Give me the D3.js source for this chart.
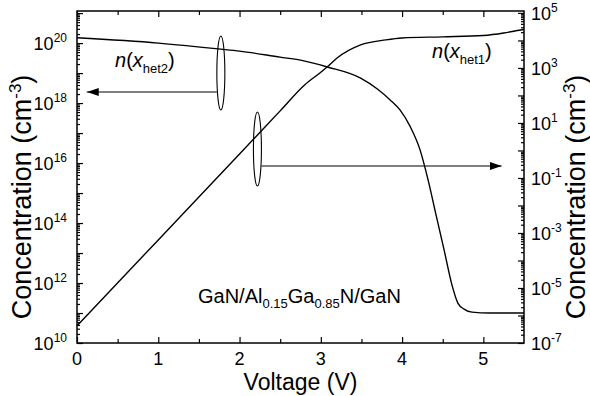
<!DOCTYPE html>
<html><head><meta charset="utf-8">
<script src="https://cdn.jsdelivr.net/npm/d3@7"></script>
<style>body{margin:0;background:#fff}svg text{font-family:"Liberation Sans",Arial,sans-serif}</style>
</head><body><svg id="c" width="590" height="396"></svg>
<script>
// ---- data ----
const voltHet2 = [0, 1, 1.77, 2, 2.5, 2.75, 3.08, 3.49, 3.7, 3.85, 3.974, 4.097, 4.22, 4.319, 4.417, 4.516, 4.614, 4.688, 4.762, 4.86, 5.08, 5.5];
const nHet2 = [1.5e20, 1.0e20, 6.3e19, 5.4e19, 3.4e19, 2.7e19, 1.6e19, 6.8e18, 2.9e18, 1.3e18, 5.9e17, 1.7e17, 2.8e16, 2.8e15, 1.9e14, 1.3e13, 8.5e11, 2.1e11, 1.35e11, 1.07e11, 1.0e11, 1.0e11];
const voltHet1 = [0, 1, 2, 2.5, 2.8, 3.0, 3.08, 3.2, 3.49, 3.8, 4.0, 4.5, 5.0, 5.25, 5.4, 5.5];
const nHet1 = [4.2e-7, 5.6e-4, 0.74, 27.5, 240, 700, 1100, 2300, 6900, 10500, 12300, 13500, 15100, 18600, 22400, 25100];
const xTicks = [0, 1, 2, 3, 4, 5];
const leftLabelExp = [10, 12, 14, 16, 18, 20];
const rightLabelExp = [-7, -5, -3, -1, 1, 3, 5];
const xLabel = "Voltage (V)";
const yLabel = "Concentration (cm";
const structure = ["GaN/Al", "0.15", "Ga", "0.85", "N/GaN"];

// ---- layout ----
const svg = d3.select("#c");
const L = 77, R = 524, T = 11, B = 343;
const x = d3.scaleLinear().domain([0, 5.5]).range([L, R]);
const yL = d3.scaleLog().domain([1e10, Math.pow(10, 21.07)]).range([B, T]);
const yR = d3.scaleLog().domain([1e-7, Math.pow(10, 5.07)]).range([B, T]);

function logTicks(lo, hi) {
  const maj = [], min = [];
  for (let e = Math.floor(lo); e <= Math.ceil(hi); e++) {
    for (let m = 1; m <= 9; m++) {
      const v = m * Math.pow(10, e);
      const lv = Math.log10(v);
      if (lv < lo - 1e-9 || lv > hi + 1e-9) continue;
      (m === 1 ? maj : min).push(v);
    }
  }
  return [maj, min];
}
const [lMaj, lMin] = logTicks(10, 21.07);
const [rMaj, rMin] = logTicks(-7, 5.07);
const xMin = d3.range(0.5, 5.5, 1);

function axisDraw(g, axis) { g.call(axis); g.select(".domain").remove(); g.selectAll("line").attr("stroke", "#000").attr("stroke-width", 1.2); }

// ticks
svg.append("g").attr("transform", `translate(${L},0)`).call(g => axisDraw(g, d3.axisLeft(yL).tickValues(lMaj).tickSize(-6).tickFormat("")));
svg.append("g").attr("transform", `translate(${L},0)`).call(g => axisDraw(g, d3.axisLeft(yL).tickValues(lMin).tickSize(-3).tickFormat("")));
svg.append("g").attr("transform", `translate(${R},0)`).call(g => axisDraw(g, d3.axisRight(yR).tickValues(rMaj).tickSize(-6).tickFormat("")));
svg.append("g").attr("transform", `translate(${R},0)`).call(g => axisDraw(g, d3.axisRight(yR).tickValues(rMin).tickSize(-3).tickFormat("")));
svg.append("g").attr("transform", `translate(0,${B})`).call(g => axisDraw(g, d3.axisBottom(x).tickValues(xTicks).tickSize(-6).tickFormat("")));
svg.append("g").attr("transform", `translate(0,${B})`).call(g => axisDraw(g, d3.axisBottom(x).tickValues(xMin).tickSize(-4).tickFormat("")));
svg.append("g").attr("transform", `translate(0,${T})`).call(g => axisDraw(g, d3.axisTop(x).tickValues(xTicks).tickSize(-6).tickFormat("")));
svg.append("g").attr("transform", `translate(0,${T})`).call(g => axisDraw(g, d3.axisTop(x).tickValues(xMin).tickSize(-4).tickFormat("")));

// frame
svg.append("rect").attr("x", L).attr("y", T).attr("width", R - L).attr("height", B - T)
  .attr("fill", "none").attr("stroke", "#000").attr("stroke-width", 1.5);

// tick labels
svg.append("g").selectAll("text").data(xTicks).join("text")
  .attr("x", d => x(d)).attr("y", B + 22).attr("text-anchor", "middle").attr("font-size", 18).text(d => d);
svg.append("g").selectAll("text").data(leftLabelExp).join("text")
  .attr("x", L - 10).attr("y", d => yL(Math.pow(10, d)) + 7).attr("text-anchor", "end").attr("font-size", 18)
  .each(function (d) {
    const t = d3.select(this);
    t.append("tspan").text("10");
    t.append("tspan").attr("dy", -8).attr("font-size", 12).text(d);
  });
svg.append("g").selectAll("text").data(rightLabelExp).join("text")
  .attr("x", R + 7).attr("y", d => yR(Math.pow(10, d)) + 7).attr("font-size", 18)
  .each(function (d) {
    const t = d3.select(this);
    t.append("tspan").text("10");
    t.append("tspan").attr("dy", -8).attr("font-size", 12).text(d < 0 ? "-" + (-d) : d);
  });

// axis titles
svg.append("text").attr("x", (L + R) / 2).attr("y", B + 47).attr("text-anchor", "middle").attr("font-size", 23).text(xLabel);
function yTitle(cx) {
  const t = svg.append("text").attr("transform", `translate(${cx},197) rotate(-90)`).attr("text-anchor", "middle").attr("font-size", 27);
  t.append("tspan").text(yLabel);
  t.append("tspan").attr("dy", -10).attr("font-size", 17).text("-3");
  t.append("tspan").attr("dy", 10).text(")");
}
yTitle(31);
yTitle(585);

// curves
const line2 = d3.line().x((d, i) => x(voltHet2[i])).y(d => yL(d)).curve(d3.curveMonotoneX);
const line1 = d3.line().x((d, i) => x(voltHet1[i])).y(d => yR(d)).curve(d3.curveMonotoneX);
svg.append("path").attr("d", line2(nHet2)).attr("fill", "none").attr("stroke", "#000").attr("stroke-width", 1.4);
svg.append("path").attr("d", line1(nHet1)).attr("fill", "none").attr("stroke", "#000").attr("stroke-width", 1.4);

// annotations: ellipses + arrows
const defs = svg.append("defs");
defs.append("marker").attr("id", "ah").attr("viewBox", "0 0 12 8").attr("refX", 12).attr("refY", 4)
  .attr("markerWidth", 12).attr("markerHeight", 8).attr("markerUnits", "userSpaceOnUse").attr("orient", "auto")
  .append("path").attr("d", "M0,0L12,4L0,8Z").attr("fill", "#000");
svg.append("ellipse").attr("cx", x(1.77)).attr("cy", 73).attr("rx", 4).attr("ry", 37).attr("fill", "none").attr("stroke", "#000").attr("stroke-width", 1.1);
svg.append("line").attr("x1", x(1.77) - 4).attr("y1", 92).attr("x2", x(0.12)).attr("y2", 92).attr("stroke", "#000").attr("stroke-width", 1.1).attr("marker-end", "url(#ah)");
svg.append("ellipse").attr("cx", x(2.22)).attr("cy", 149).attr("rx", 4).attr("ry", 37).attr("fill", "none").attr("stroke", "#000").attr("stroke-width", 1.1);
svg.append("line").attr("x1", x(2.22) + 4).attr("y1", 166).attr("x2", x(5.225)).attr("y2", 166).attr("stroke", "#000").attr("stroke-width", 1.1).attr("marker-end", "url(#ah)");

// labels
function nLabel(px, py, sub) {
  const t = svg.append("text").attr("x", px).attr("y", py).attr("font-size", 20);
  t.append("tspan").attr("font-style", "italic").text("n");
  t.append("tspan").text("(");
  t.append("tspan").attr("font-style", "italic").text("x");
  t.append("tspan").attr("dy", 6).attr("font-size", 13).text(sub);
  t.append("tspan").attr("dy", -6).text(")");
}
nLabel(115, 67, "het2");
nLabel(432, 58, "het1");
const st = svg.append("text").attr("x", 198).attr("y", 303).attr("font-size", 20);
st.append("tspan").text(structure[0]);
st.append("tspan").attr("dy", 5).attr("font-size", 13).text(structure[1]);
st.append("tspan").attr("dy", -5).text(structure[2]);
st.append("tspan").attr("dy", 5).attr("font-size", 13).text(structure[3]);
st.append("tspan").attr("dy", -5).text(structure[4]);
</script></body></html>
